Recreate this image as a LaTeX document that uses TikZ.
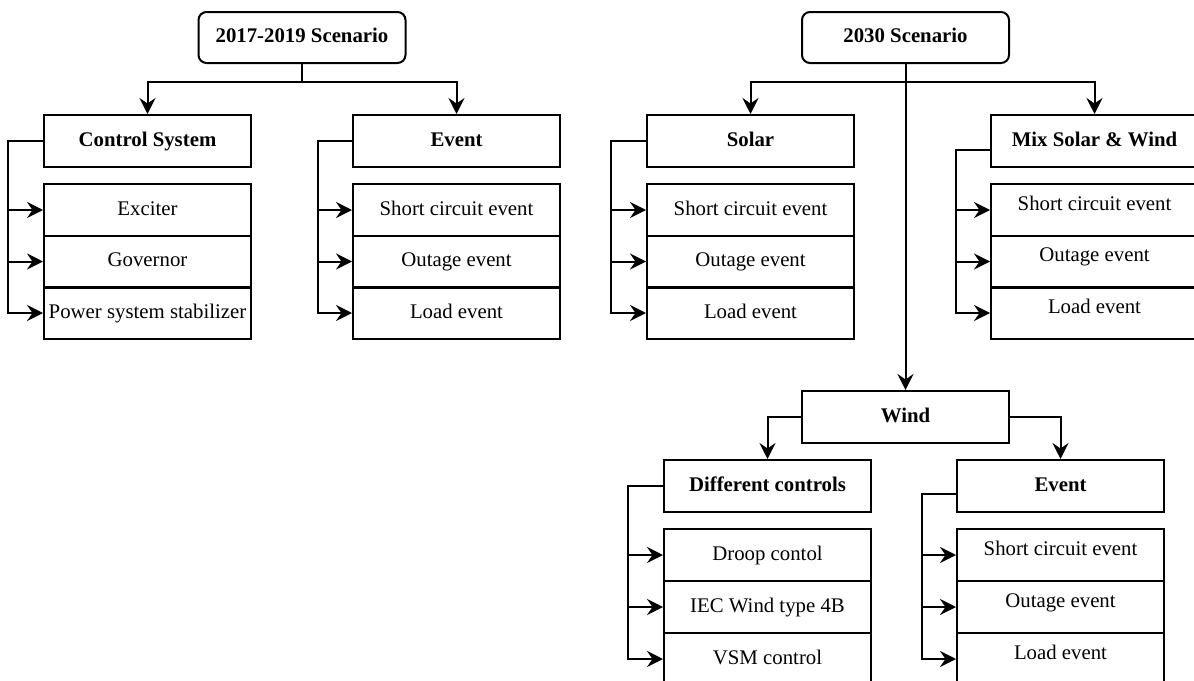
\documentclass[tikz,border=0pt]{standalone}
\usepackage{fontspec}
\setmainfont{Liberation Serif}
\usetikzlibrary{arrows.meta}
\tikzset{
  every node/.style={font=\fontsize{20.8}{25}\selectfont},
  box/.style={draw, line width=2pt, rectangle, minimum width=207pt, minimum height=52pt,
              inner sep=0pt, text height=15pt, text depth=5pt},
  head/.style={box, font=\fontsize{20.8}{25}\selectfont\bfseries},
  root/.style={head, rounded corners=8pt, minimum height=51pt},
  lifted/.style={text height=10pt, text depth=10pt},
  wire/.style={line width=2pt},
  arr/.style={wire, -{Stealth[length=16pt,width=16pt,inset=5.5pt]}},
}
\begin{document}
\begin{tikzpicture}[x=1pt,y=-1pt]
\useasboundingbox (0,0) rectangle (1194,680);
\clip (0,0) rectangle (1194,680);

% ---------- 2017-2019 tree ----------
\node[root] (t1) at (302,37.5) {2017-2019 Scenario};

\node[head] (cs) at (147.5,141) {Control System};
\node[box] (cs1) at (147.5,210) {Exciter};
\node[box] (cs2) at (147.5,261.5) {Governor};
\node[box] (cs3) at (147.5,313) {Power system stabilizer};

\node[head] (e1) at (456.5,141) {Event};
\node[box] (e11) at (456.5,210) {Short circuit event};
\node[box] (e12) at (456.5,261.5) {Outage event};
\node[box] (e13) at (456.5,313) {Load event};

\draw[arr] (t1.south) -- ++(0,18) -| (cs.north);
\draw[arr] (t1.south) -- ++(0,18) -| (e1.north);

\foreach \i in {cs1,cs2,cs3}
  \draw[arr] (cs.west) -- ++(-35,0) |- (\i.west);
\foreach \i in {e11,e12,e13}
  \draw[arr] (e1.west) -- ++(-34,0) |- (\i.west);

% ---------- 2030 tree ----------
\node[root] (t2) at (905.5,37.5) {2030 Scenario};

\node[head] (so) at (750.5,141) {Solar};
\node[box] (so1) at (750.5,210) {Short circuit event};
\node[box] (so2) at (750.5,261.5) {Outage event};
\node[box] (so3) at (750.5,313) {Load event};

\node[head] (mx) at (1094.5,141) {Mix Solar \& Wind};
\node[box,lifted] (mx1) at (1094.5,210) {Short circuit event};
\node[box,lifted] (mx2) at (1094.5,261.5) {Outage event};
\node[box,lifted] (mx3) at (1094.5,313) {Load event};

\node[head] (wd) at (905.5,417) {Wind};

\node[head] (dc) at (767.5,486) {Different controls};
\node[box] (dc1) at (767.5,555) {Droop contol};
\node[box] (dc2) at (767.5,607) {IEC Wind type 4B};
\node[box] (dc3) at (767.5,659) {VSM control};

\node[head,text height=18pt,text depth=8pt] (we) at (1060.5,486) {Event};
\node[box,lifted] (we1) at (1060.5,555) {Short circuit event};
\node[box,lifted] (we2) at (1060.5,607) {Outage event};
\node[box,lifted] (we3) at (1060.5,659) {Load event};

\draw[arr] (t2.south) -- ++(0,18) -| (so.north);
\draw[arr] (t2.south) -- ++(0,18) -| (mx.north);
\draw[arr] (t2.south) -- (wd.north);

\draw[arr] (wd.west) -| (dc.north);
\draw[arr] (wd.east) -| (we.north);

\foreach \i in {so1,so2,so3}
  \draw[arr] (so.west) -- ++(-35,0) |- (\i.west);
\foreach \i in {mx1,mx2,mx3}
  \draw[arr] ([yshift=-9pt]mx.west) -- ++(-34,0) |- (\i.west);
\foreach \i in {dc1,dc2,dc3}
  \draw[arr] (dc.west) -- ++(-35,0) |- (\i.west);
\foreach \i in {we1,we2,we3}
  \draw[arr] ([yshift=-8pt]we.west) -- ++(-34,0) |- (\i.west);
\end{tikzpicture}
\end{document}
